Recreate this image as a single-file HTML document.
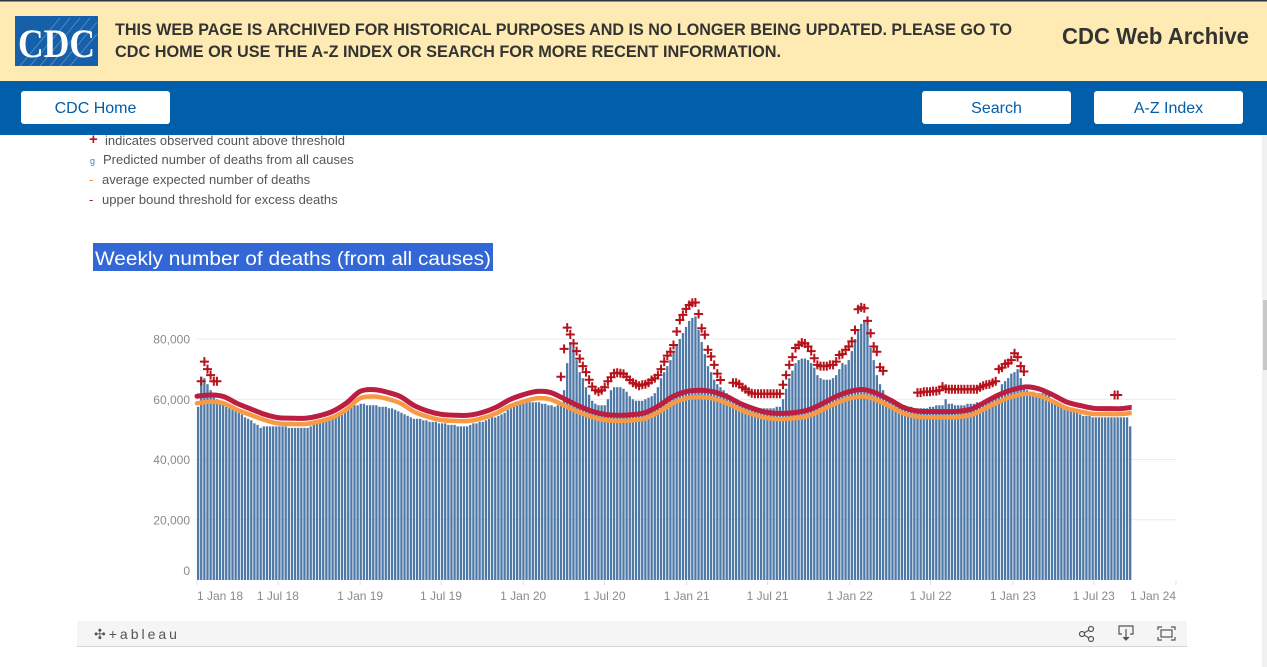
<!DOCTYPE html>
<html><head><meta charset="utf-8"><title>Weekly number of deaths</title>
<style>
html,body{margin:0;padding:0;background:#fff;overflow:hidden}
svg{display:block;font-family:"Liberation Sans",sans-serif}
</style></head>
<body>
<svg id="page" width="1267" height="667" viewBox="0 0 1267 667">
  <g>
    <rect x="0" y="0" width="1267" height="81" fill="#fdebb3"/>
    <rect x="0" y="0" width="1267" height="1.5" fill="#2a3344"/>
    <g>
      <rect x="15" y="16" width="83" height="50" fill="#1560a8"/>
      <g stroke="#6f9fd0" stroke-width="0.8" opacity="0.8">
        <line x1="20" y1="66" x2="60" y2="18"/><line x1="30" y1="66" x2="70" y2="18"/>
        <line x1="40" y1="66" x2="80" y2="18"/><line x1="50" y1="66" x2="90" y2="18"/>
        <line x1="60" y1="66" x2="97" y2="22"/><line x1="70" y1="66" x2="97" y2="34"/>
      </g>
      <text x="18" y="57" fill="#fff" font-family="'Liberation Serif',serif" font-size="40" font-weight="bold" textLength="77" lengthAdjust="spacingAndGlyphs">CDC</text>
    </g>
    <text fill="#333" font-size="17" font-weight="bold">
      <tspan x="115" y="35" textLength="897" lengthAdjust="spacingAndGlyphs">THIS WEB PAGE IS ARCHIVED FOR HISTORICAL PURPOSES AND IS NO LONGER BEING UPDATED. PLEASE GO TO</tspan>
      <tspan x="115" y="57" textLength="666" lengthAdjust="spacingAndGlyphs">CDC HOME OR USE THE A-Z INDEX OR SEARCH FOR MORE RECENT INFORMATION.</tspan>
    </text>
    <text x="1062" y="44" fill="#333" font-size="23" font-weight="bold" textLength="187" lengthAdjust="spacingAndGlyphs">CDC Web Archive</text>
  </g>
  <g>
    <rect x="0" y="81" width="1267" height="54" fill="#005eaa"/>
    <g>
      <rect x="21" y="91" width="149" height="33" rx="3" fill="#fff"/>
      <text x="95.5" y="113" text-anchor="middle" fill="#005eaa" font-size="16">CDC Home</text>
    </g>
    <g>
      <rect x="922" y="91" width="149" height="33" rx="3" fill="#fff"/>
      <text x="996.5" y="113" text-anchor="middle" fill="#005eaa" font-size="16">Search</text>
    </g>
    <g>
      <rect x="1094" y="91" width="149" height="33" rx="3" fill="#fff"/>
      <text x="1168.5" y="113" text-anchor="middle" fill="#005eaa" font-size="16">A-Z Index</text>
    </g>
  </g>
  <rect x="1262" y="135" width="5" height="532" fill="#f1f1f1"/>
  <rect x="1263" y="300" width="4" height="70" fill="#c8c8c8"/>
  <g font-size="13" fill="#555">
    <g>
      <text x="89" y="144" fill="#c0101e" font-size="15" font-weight="bold">+</text>
      <text x="105" y="145">indicates observed count above threshold</text>
    </g>
    <g>
      <text x="90" y="164" fill="#4e79a7" font-size="9">g</text>
      <text x="103" y="164">Predicted number of deaths from all causes</text>
    </g>
    <g>
      <text x="89" y="184" fill="#f28e2b">-</text>
      <text x="102" y="184">average expected number of deaths</text>
    </g>
    <g>
      <text x="89" y="204" fill="#b5121b">-</text>
      <text x="102" y="204">upper bound threshold for excess deaths</text>
    </g>
  </g>
  <g>
    <rect x="93" y="243" width="400" height="28" fill="#3367d6"/>
    <text x="95" y="265" fill="#fff" font-size="19.5" textLength="396" lengthAdjust="spacingAndGlyphs">Weekly number of deaths (from all causes)</text>
  </g>
  <g id="chart"></g>
  <g>
    <rect x="77" y="621" width="1110" height="26" fill="#f5f5f5"/>
    <rect x="77" y="646" width="1110" height="1" fill="#d4d4d4"/>
    <text x="94" y="639" fill="#555" font-size="14" letter-spacing="3">✣+ableau</text>
    <g stroke="#555" stroke-width="1.2" fill="none">
      <circle cx="1082" cy="634" r="2.5"/><circle cx="1091" cy="629" r="2.5"/><circle cx="1091" cy="639" r="2.5"/>
      <line x1="1084" y1="633" x2="1089" y2="630"/><line x1="1084" y1="635" x2="1089" y2="638"/>
    </g>
    <g stroke="#555" stroke-width="1.2" fill="none">
      <path d="M1122 634 h-3 v-8 h14 v8 h-3"/><line x1="1126" y1="629" x2="1126" y2="640"/>
      <path d="M1123 637 l3 3 l3 -3" fill="#555"/>
    </g>
    <g stroke="#555" stroke-width="1.2" fill="none">
      <path d="M1158 630 v-3 h4 M1171 627 h4 v3 M1175 637 v3 h-4 M1162 640 h-4 v-3"/>
      <rect x="1161" y="630" width="11" height="7"/>
    </g>
  </g>
</svg>
<script>
const deaths2018 = [57.5,67.5,67,65,63,61,60,59,58.5,57.5,57,56.5,56,55.5,55,54,53.5,53,52,51.5,50.5,51,51,51,51,51,51,51,51,50.5,50.5,50.5,50.5,50.5,50.5,50.5,51,51.5,52,52,52.5,53,53.5,54,54.5,55,55.5,56,57,57.5,58,58];
const deaths2019 = [58.5,58.5,58,58,58,58,57.5,57.5,57.5,57,57,56.5,56,55.5,55,54.5,54,53.5,53.5,53.5,53,53,52.5,52.5,52.5,52,52,52,51.5,51.5,51.5,51,51,51,51,51.5,52,52,52.5,52.5,53,53.5,54,54,54.5,55,55.5,56.5,57,58,58.5,59];
const deaths2020 = [58.5,59,59,59,59,59,58.5,58.5,58,58,57.5,58,58.5,63,72,79,77,73,69,67,64,61.5,59.5,58.5,58,58,58,60,63,64,64,64,63.5,62.5,61,60,59.5,59.5,59.5,60,60.5,61,62,64,67,69,71,73,76,78,80,82,84];
const deaths2021 = [86,87,87.5,83,79,75,71,69,66.5,65,64,63,62,61,60.5,60,59.5,59,58.5,58,57.5,57,57,57,57,57,57,57,57.5,57.5,60,63.5,67,69.5,72,73,73.5,73.5,73,72,70.5,68,67,66.5,66.5,66.5,67,68,70,72,71.5,73];
const deaths2022 = [76,80,83,85,86,84.5,77,73,68,65,63,60,59.5,59,58.5,58.5,58,58,57.5,57.5,57,57,57,57,57,57.5,57.5,58,58,58,60,58.5,58.5,58,58,58,58,58.5,58.5,58.5,59,59,59.5,60,60.5,61,61,62,65,66,67,68.5];
const deaths2023 = [69,70,67,63.5,63,62.5,62.5,62,62,62,62,61.5,60,58.7,58,57.5,57,56.5,56,56,55.5,55,54.5,54.5,54.5,54,54,54,54,54,54,54,54,54,54,54,54,51];
const deaths = [].concat(deaths2018, deaths2019, deaths2020, deaths2021, deaths2022, deaths2023);

const expected = [58.7,59.2,58.7,56.5,54.8,53.1,52.0,51.8,51.8,52.6,54.0,56.5,
  60.3,60.9,60.2,58.7,55.9,54.2,53.1,52.8,52.8,53.7,55.3,57.6,
  59.2,60.3,60.0,58.0,55.9,54.2,53.1,52.8,53.0,53.7,55.9,58.7,
  60.3,60.7,60.2,58.7,56.5,54.8,53.7,53.4,53.7,54.5,56.5,58.7,
  60.3,60.9,59.8,57.6,55.3,54.2,54.0,54.0,54.1,54.8,57.0,59.2,
  60.9,61.8,61.1,59.2,57.0,55.9,55.1,55.1,55.1,55.6];
const threshold = [61.0,61.4,60.9,58.6,56.8,55.0,53.9,53.7,53.7,54.5,56.0,58.7,
  62.6,63.2,62.4,60.9,58.0,56.1,55.0,54.7,54.7,55.6,57.3,59.8,
  61.5,62.6,62.3,60.2,58.0,56.1,55.0,54.7,54.9,55.6,58.0,60.9,
  62.6,63.0,62.5,60.9,58.6,56.8,55.6,55.3,55.6,56.5,58.6,60.9,
  62.6,63.2,62.0,59.8,57.3,56.1,55.9,55.9,56.0,56.8,59.2,61.5,
  63.2,64.1,63.4,61.4,59.1,57.9,57.0,56.9,56.9,57.5];

const plusStart = [1,116,157,171,209,230,261,293];
const plusValues = [
  [66,72.5,70,68,66,66],
  [67.5,76.7,83.8,81.5,78.5,76,73.5,71,69,66.5,64.2,63,62.5,63,64,66,67.3,68.6,68.8,68.6,68.4,67.5,66.4,65.5,65,64.5,64.8,65,65.5,66.4,67,68,70,72.5,74.5,75.8,78,82.5,86.3,88,90],
  [91.3,92,92.1,88.3,83.6,81.4,76.4,74.2,71.4,68.5,66.4],
  [65.5,65.5,65,64,63.3,62.5,62,61.8,61.8,61.8,61.8,61.8,61.8,61.8,61.8,61.8,64.8,68,71.4,74,77,78,78.8,78.5,77.5,76,73.6,71.4,71,71,71,71.4,71.4,72.5,74.7,75,76.4,77.5],
  [79.2,83,89.9,90.5,90.2,86,81.9,77.5,75.8,70.6,69.4],
  [62.2,62.2,62.5,62.5,62.5,62.7,62.7,63,64.2,63.5,63.3,63.3,63.3,63.3,63.3,63.3,63.3,63.3,63.3,63.3,64,64.5,64.8,65,65.5,66,70,70.5,71.7,72,73],
  [75.3,74,71,69.2],
  [61.4,61.4]
];

const yTicks = [0,20,40,60,80];
const yTickLabels = ['0','20,000','40,000','60,000','80,000'];
const xTickDates = [[2018,0],[2018,6],[2019,0],[2019,6],[2020,0],[2020,6],[2021,0],[2021,6],[2022,0],[2022,6],[2023,0],[2023,6],[2024,0]];
const xTickLabels = ['1 Jan 18','1 Jul 18','1 Jan 19','1 Jul 19','1 Jan 20','1 Jul 20','1 Jan 21','1 Jul 21','1 Jan 22','1 Jul 22','1 Jan 23','1 Jul 23','1 Jan 24'];

const DAY = 86400000;
const T0 = Date.UTC(2018,0,1), T1 = Date.UTC(2024,0,1);
const X0 = 197, X1 = 1176, Y0 = 580, Y80 = 339;
function xScale(ms){ return X0 + (ms - T0) / (T1 - T0) * (X1 - X0); }
function yScale(v){ return Y0 - v / 80 * (Y0 - Y80); }
function weekCenter(i){ return T0 + (2.5 + 7*i) * DAY; }

const NS = 'http://www.w3.org/2000/svg';
const chart = document.getElementById('chart');
function mk(tag, attrs, parent){
  const el = document.createElementNS(NS, tag);
  for (const k in attrs) el.setAttribute(k, attrs[k]);
  (parent || chart).appendChild(el);
  return el;
}

yTicks.forEach((v, k) => {
  const y = yScale(v);
  if (v > 0) {
    const g = mk('line', {x1: 195, x2: 1176, y1: y, y2: y, stroke: '#ececec', 'stroke-width': 1});
    
    
  }
  const t = mk('text', {x: 190, y: (v === 0 ? 575 : y + 4.5), 'text-anchor': 'end', 'font-size': 12, fill: '#8c8a87'});
  t.textContent = yTickLabels[k];
  
  
});

const barsG = mk('g', {});


deaths.forEach((v, i) => {
  const cx = xScale(weekCenter(i));
  const y = yScale(v);
  const r = mk('rect', {x: (cx - 1.15).toFixed(2), y: y.toFixed(2), width: 2.3, height: (Y0 - y).toFixed(2), fill: '#4e79a7'}, barsG);
  
  
});
const lastX = xScale(weekCenter(deaths.length - 1)) + 1.5;

function smoothPath(vals){
  const pts = vals.map((v, k) => [xScale(Date.UTC(2018, k, 1)), yScale(v)]);
  let d = 'M' + pts[0][0].toFixed(1) + ' ' + pts[0][1].toFixed(1);
  for (let k = 0; k < pts.length - 1; k++){
    const p0 = pts[Math.max(0,k-1)], p1 = pts[k], p2 = pts[k+1], p3 = pts[Math.min(pts.length-1,k+2)];
    const c1 = [p1[0] + (p2[0]-p0[0])/6, p1[1] + (p2[1]-p0[1])/6];
    const c2 = [p2[0] - (p3[0]-p1[0])/6, p2[1] - (p3[1]-p1[1])/6];
    d += ' C' + c1.map(n=>n.toFixed(1)).join(' ') + ' ' + c2.map(n=>n.toFixed(1)).join(' ') + ' ' + p2.map(n=>n.toFixed(1)).join(' ');
  }
  return d;
}
const defs = mk('defs', {});
const cp = mk('clipPath', {id: 'lineclip'}, defs);
mk('rect', {x: 190, y: 200, width: lastX - 190, height: 400}, cp);

const exp = mk('path', {d: smoothPath(expected), fill: 'none', stroke: '#f79a45', 'stroke-width': 4.5, 'stroke-linecap': 'round', 'clip-path': 'url(#lineclip)'});


const thr = mk('path', {d: smoothPath(threshold), fill: 'none', stroke: '#bb1e40', 'stroke-width': 5, 'stroke-linecap': 'round', 'clip-path': 'url(#lineclip)'});



const plusG = mk('g', {stroke: '#b5121b', 'stroke-width': 2});


plusStart.forEach((s, r) => {
  plusValues[r].forEach((v, j) => {
    const cx = xScale(weekCenter(s + j)), cy = yScale(v);
    const p = mk('path', {d: `M${(cx-4.5).toFixed(1)} ${cy.toFixed(1)}h9M${cx.toFixed(1)} ${(cy-4.5).toFixed(1)}v9`, fill: 'none'}, plusG);
    
    
  });
});

xTickDates.forEach((d, k) => {
  const x = xScale(Date.UTC(d[0], d[1], 1));
  const tk = mk('line', {x1: x, x2: x, y1: 581, y2: 585, stroke: '#ddd', 'stroke-width': 1});
  
  
  const anchor = k === 0 ? 'start' : (k === xTickDates.length - 1 ? 'end' : 'middle');
  const t = mk('text', {x: x, y: 600, 'text-anchor': anchor, 'font-size': 12, fill: '#8c8a87'});
  t.textContent = xTickLabels[k];
  
  
});
</script>
</body></html>
